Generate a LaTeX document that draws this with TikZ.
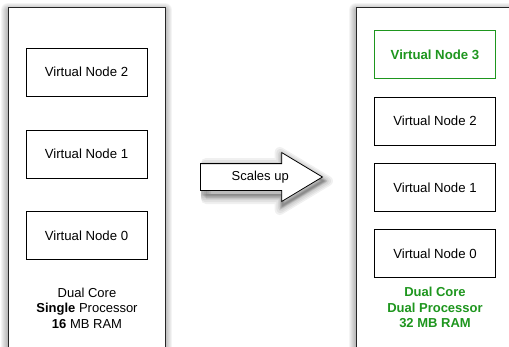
\documentclass[tikz,border=0pt]{standalone}
\usepackage{fontspec}
\setmainfont{Liberation Sans}
\usetikzlibrary{shapes.arrows}
\definecolor{grn}{RGB}{30,150,30}
\tikzset{
  panel/.style={draw=black!85, line width=0.8pt, fill=white, inner sep=0pt, anchor=north west},
  softshadow/.style={fill=black, draw=black, opacity=0.045, line join=round},
  vnode/.style={draw=black, line width=0.8pt, fill=white, minimum width=121pt, minimum height=48pt, font=\fontsize{13.2}{15}\selectfont},
  vnew/.style={vnode, draw=grn, line width=1.4pt, text=grn, font=\fontsize{13.2}{15}\selectfont\bfseries},
  caption/.style={align=center, font=\fontsize{13}{15.5}\selectfont},
  bigarrow/.style={single arrow, line width=0.8pt, single arrow head extend=11pt, single arrow tip angle=62, minimum height=122pt, inner xsep=1pt, inner ysep=7pt, text height=9pt, text depth=3pt, anchor=west, font=\fontsize{13}{15}\selectfont},
}
\begin{document}
\begin{tikzpicture}[x=1pt,y=-1pt]
\useasboundingbox (0,0) rectangle (509,346);
\begin{scope}
\clip (0,0) rectangle (509,346);
% soft shadows of the panels
\foreach \i in {1,...,7} {
  \draw[softshadow, line width=2*\i pt] (8,10) rectangle (165,380);
  \draw[softshadow, line width=2*\i pt] (356,10) rectangle (540,380);
}
% left panel
\node[panel, minimum width=157pt, minimum height=380pt] (lp) at (8,7) {};
% right panel
\node[panel, minimum width=180pt, minimum height=380pt] (rp) at (356,7) {};
\end{scope}
% left nodes
\node[vnode] (l2) at (86.5,72) {Virtual Node 2};
\node[vnode] (l1) at (86.5,154) {Virtual Node 1};
\node[vnode] (l0) at (86.5,235.5) {Virtual Node 0};
\node[caption] (lc) at (87,308) {Dual Core\\\textbf{Single} Processor\\\textbf{16} MB RAM};
% right nodes
\node[vnew] (r3) at (435,54.5) {Virtual Node 3};
\node[vnode] (r2) at (435,121) {Virtual Node 2};
\node[vnode] (r1) at (435,187.5) {Virtual Node 1};
\node[vnode] (r0) at (435,253.5) {Virtual Node 0};
\node[caption, text=grn, font=\fontsize{13}{15.5}\selectfont\bfseries] (rc) at (435,307.5) {Dual Core\\Dual Processor\\32 MB RAM};
% arrow shadow
\foreach \i in {1,...,5} {
  \node[bigarrow, softshadow, opacity=0.06, line width=2*\i pt] at (201,181) {\hspace*{20pt}\phantom{Scales up}};
}
% arrow
\node[bigarrow, draw=black, fill=white] (ar) at (200,177) {\hspace*{20pt}Scales up};
\end{tikzpicture}
\end{document}
